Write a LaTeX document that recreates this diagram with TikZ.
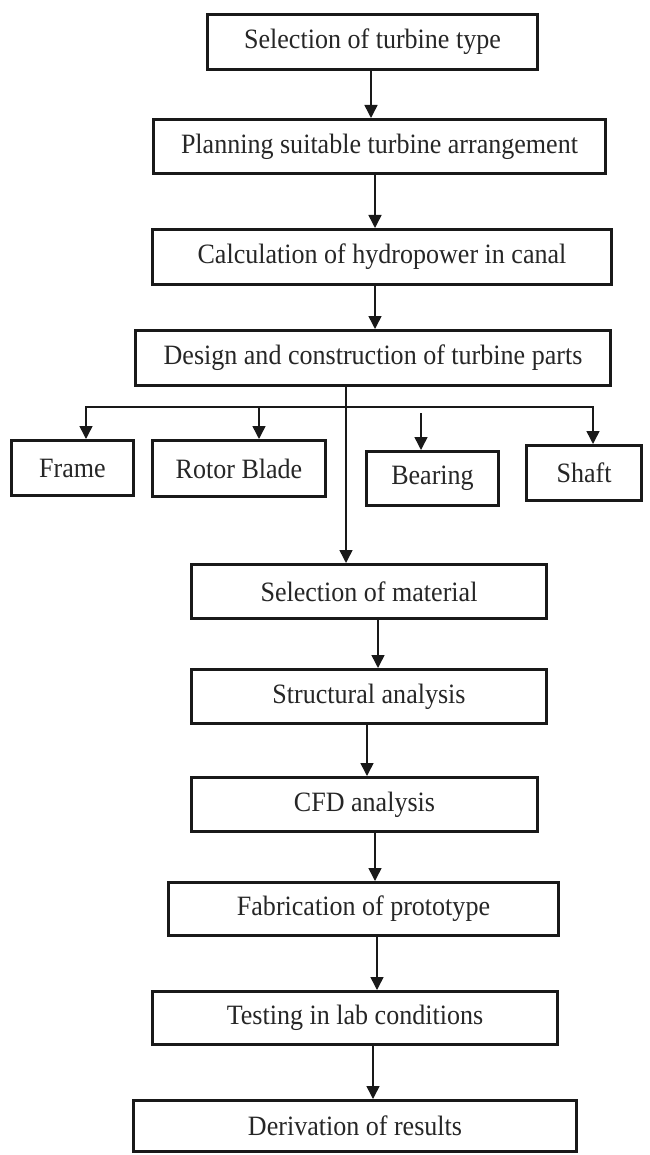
\documentclass[tikz,border=0pt]{standalone}
\usepackage{fontspec}
\setmainfont{Liberation Serif}[FakeStretch=0.93]
\usetikzlibrary{arrows.meta}
\begin{document}
\begin{tikzpicture}[x=1pt,y=-1pt,
  box/.style={draw=black!90, line width=3pt, inner sep=0pt, align=center,
    font=\fontsize{28}{32}\selectfont, text=black!85},
  conn/.style={line width=1.5pt, draw=black!90},
  arr/.style={conn, -{Triangle[width=13pt,length=13pt]}},
  darr/.style={conn, {Triangle[width=13pt,length=13pt]}-{Triangle[width=13pt,length=13pt]}}]
\useasboundingbox[fill=white] (0,0) rectangle (649,1155);
% main boxes (sizes are outer size minus line width)
\node[box, minimum width=330pt, minimum height=55pt] (b1) at (372.5,42) {Selection of turbine type};
\node[box, minimum width=452pt, minimum height=54pt] (b2) at (379.5,146.5) {Planning suitable turbine arrangement};
\node[box, minimum width=459pt, minimum height=55pt] (b3) at (382,257) {Calculation of hydropower in canal};
\node[box, minimum width=475pt, minimum height=55pt] (b4) at (373,358) {Design and construction of turbine parts};
% parts
\node[box, minimum width=122pt, minimum height=55pt] (frame) at (72.5,468) {Frame};
\node[box, minimum width=173pt, minimum height=56pt] (rotor) at (239,468.5) {Rotor Blade};
\node[box, minimum width=132pt, minimum height=54pt] (bearing) at (432.5,478.5) {Bearing};
\node[box, minimum width=115pt, minimum height=55pt] (shaft) at (584,473) {Shaft};
% lower chain
\node[box, minimum width=355pt, minimum height=54pt] (b9) at (369,591.5) {Selection of material};
\node[box, minimum width=355pt, minimum height=54pt] (b10) at (369,696.5) {Structural analysis};
\node[box, minimum width=346pt, minimum height=54pt] (b11) at (364.5,804.5) {CFD analysis};
\node[box, minimum width=390pt, minimum height=53pt] (b12) at (363.5,909) {Fabrication of prototype};
\node[box, minimum width=405pt, minimum height=53pt] (b13) at (355,1018) {Testing in lab conditions};
\node[box, minimum width=443pt, minimum height=51pt] (b14) at (355,1126) {Derivation of results};
% connectors
\draw[arr] (b1.south -| 371,0) -- (b2.north -| 371,0);
\draw[arr] (b2.south -| 375,0) -- (b3.north -| 375,0);
\draw[arr] (b3.south -| 375,0) -- (b4.north -| 375,0);
\coordinate (fl) at (86,407);
\coordinate (rl) at (259,407);
\coordinate (sl) at (593,407);
\coordinate (bt) at (421,413);
\draw[darr] (frame.north -| fl) -- (fl) -- (sl) -- (shaft.north -| sl);
\draw[arr] (rl) -- (rotor.north -| rl);
\draw[arr] (bt) -- (bearing.north -| bt);
\draw[arr] (b4.south -| 346,0) -- (b9.north -| 346,0);
\draw[arr] (b9.south -| 378,0) -- (b10.north -| 378,0);
\draw[arr] (b10.south -| 367,0) -- (b11.north -| 367,0);
\draw[arr] (b11.south -| 375,0) -- (b12.north -| 375,0);
\draw[arr] (b12.south -| 377,0) -- (b13.north -| 377,0);
\draw[arr] (b13.south -| 373,0) -- (b14.north -| 373,0);
\end{tikzpicture}
\end{document}
